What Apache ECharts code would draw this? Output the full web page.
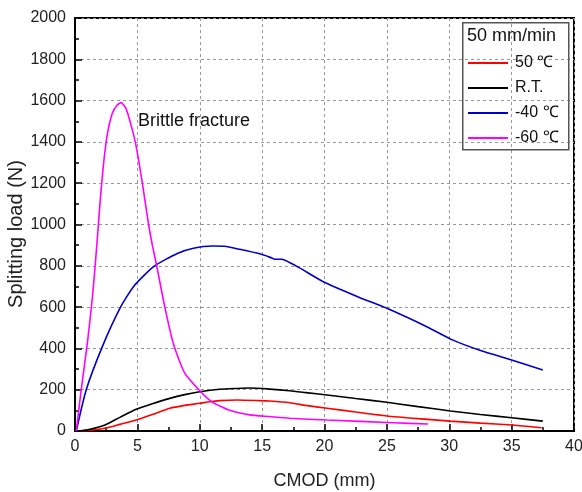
<!DOCTYPE html>
<html>
<head>
<meta charset="utf-8">
<script src="https://cdn.jsdelivr.net/npm/echarts@6/dist/echarts.min.js"></script>
<style>
  html, body { margin: 0; padding: 0; background: #fff; }
  #chart { width: 582px; height: 492px; }
</style>
</head>
<body>
<div id="chart"></div>
<script>
// series names (legend)
var names = ['50 ℃', 'R.T.', '-40 ℃', '-60 ℃'];
var colors = ['#ff0000', '#000000', '#0000cc', '#ff00ff'];

// 50 C
var x50 = [0.4, 1.2, 2.4, 3.6, 4.9, 6.2, 7.6, 8.8, 10.0, 10.8, 11.6, 13.0, 14.8, 15.6, 17.2, 18.5, 20.2, 22.5, 25.0, 27.5, 30.1, 32.5, 35.0, 37.4];
var y50 = [0, 3, 13, 32, 53, 80, 110, 124, 134, 142, 147, 150, 147, 145, 137, 124, 110, 92, 73, 60, 48, 38, 29, 16];

// room temperature
var xRT = [0.4, 1.2, 2.4, 3.6, 4.9, 6.2, 7.6, 8.8, 10.0, 11.6, 13.0, 14.0, 15.6, 17.2, 18.5, 20.2, 22.5, 25.0, 27.5, 30.1, 32.5, 35.0, 37.5];
var yRT = [0, 8, 29, 66, 105, 132, 158, 176, 190, 202, 206, 208, 203, 195, 186, 174, 157, 139, 118, 97, 80, 64, 48];

// -40 C
var xM40 = [0.1, 0.9, 2.2, 3.6, 4.7, 6.3, 8.2, 9.5, 11.0, 12.0, 13.2, 14.8, 15.6, 16.0, 16.6, 17.2, 18.0, 19.9, 22.8, 25.0, 28.2, 30.3, 32.5, 35.0, 37.5];
var yM40 = [0, 200, 410, 594, 700, 796, 860, 885, 896, 895, 880, 858, 842, 832, 832, 816, 790, 723, 647, 594, 505, 440, 390, 344, 295];

// -60 C
var xM60 = [0.1, 0.5, 1.0, 1.4, 1.75, 2.0, 2.3, 2.6, 3.0, 3.4, 3.7, 4.1, 4.5, 4.9, 5.4, 5.9, 6.2, 6.55, 7.2, 7.9, 8.8, 10.0, 11.0, 12.4, 14.0, 15.6, 17.2, 20.2, 25.5, 28.3];
var yM60 = [0, 200, 430, 650, 900, 1100, 1300, 1440, 1540, 1580, 1590, 1560, 1480, 1380, 1200, 1000, 900, 800, 600, 420, 280, 195, 140, 100, 78, 70, 62, 53, 40, 34];

var xTicks = [0, 5, 10, 15, 20, 25, 30, 35, 40];
var yTicks = [0, 200, 400, 600, 800, 1000, 1200, 1400, 1600, 1800, 2000];

function pairs(xs, ys) {
  return xs.map(function (v, i) { return [v, ys[i]]; });
}

var allData = [pairs(x50, y50), pairs(xRT, yRT), pairs(xM40, yM40), pairs(xM60, yM60)];

var chart = echarts.init(document.getElementById('chart'));
var font = 'Liberation Sans, Arial, sans-serif';

var option = {
  animation: false,
  backgroundColor: '#fff',
  textStyle: { fontFamily: font },
  grid: {
    left: 75, right: 8, top: 18, bottom: 61,
    outerBoundsMode: 'none',
    show: true, borderColor: '#000', borderWidth: 2
  },
  xAxis: {
    type: 'value',
    min: xTicks[0], max: xTicks[xTicks.length - 1], interval: 5,
    name: 'CMOD (mm)', nameLocation: 'middle', nameGap: 41,
    nameTextStyle: { fontSize: 18, color: '#222', fontFamily: font },
    axisLine: { lineStyle: { color: '#000', width: 2 } },
    axisTick: { inside: true, length: 7, lineStyle: { color: '#000', width: 1.5 } },
    minorTick: { show: true, splitNumber: 2, length: 4, lineStyle: { color: '#000', width: 1.5 } },
    axisLabel: { fontSize: 16, color: '#222', margin: 8, fontFamily: font },
    splitLine: { show: true, lineStyle: { color: '#999', type: [3, 3], width: 1 } }
  },
  yAxis: {
    type: 'value',
    min: yTicks[0], max: yTicks[yTicks.length - 1], interval: 200,
    axisLine: { show: true, lineStyle: { color: '#000', width: 2 } },
    axisTick: { show: true, inside: true, length: 7, lineStyle: { color: '#000', width: 1.5 } },
    minorTick: { show: true, splitNumber: 2, length: 4, lineStyle: { color: '#000', width: 1.5 } },
    axisLabel: {
      fontSize: 16, color: '#222', margin: 9, fontFamily: font,
      formatter: function (v) { return String(v); }
    },
    splitLine: { show: true, lineStyle: { color: '#999', type: [3, 3], width: 1 } }
  },
  legend: {
    orient: 'vertical',
    left: 468, top: 55, padding: 0,
    icon: 'rect',
    itemWidth: 40, itemHeight: 2, itemGap: 9,
    textStyle: { fontSize: 16, color: '#111', fontFamily: font, padding: [0, 0, 0, 2] },
    data: names
  },
  graphic: [
    {
      type: 'rect', left: 462, top: 22, z: 100,
      shape: { width: 106, height: 127 },
      style: { fill: 'rgba(0,0,0,0)', stroke: '#555', lineWidth: 1.5 }
    },
    {
      type: 'text', left: 467, top: 27, z: 100,
      style: { text: '50 mm/min', fontSize: 18, fill: '#111', fontFamily: font }
    },
    {
      type: 'text', left: 138, top: 112, z: 100,
      style: { text: 'Brittle fracture', fontSize: 18, fill: '#111', fontFamily: font }
    },
    {
      type: 'text', x: 16, y: 234, rotation: Math.PI / 2, z: 100,
      style: {
        text: 'Splitting load (N)', fontSize: 20, fill: '#222', fontFamily: font,
        align: 'center', verticalAlign: 'middle'
      }
    }
  ],
  series: names.map(function (n, i) {
    return {
      name: n,
      type: 'line',
      data: allData[i],
      smooth: 0.2,
      symbol: 'none',
      lineStyle: { color: colors[i], width: 1.6 },
      itemStyle: { color: colors[i] }
    };
  })
};

chart.setOption(option);
</script>
</body>
</html>
